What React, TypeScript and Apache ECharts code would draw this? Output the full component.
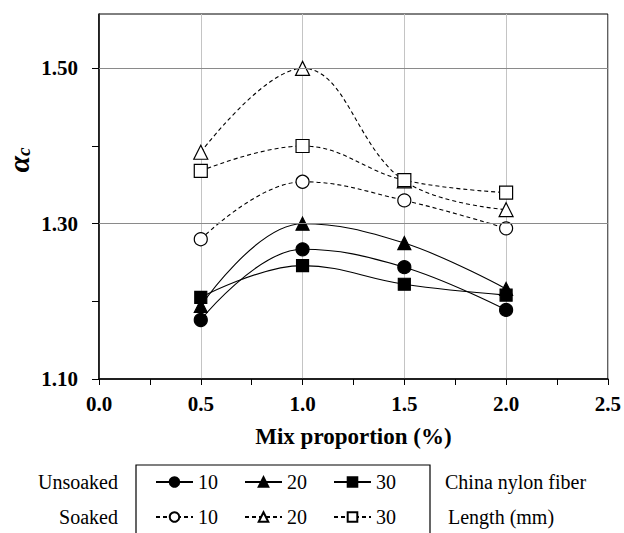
import React, { useEffect, useRef } from "react";
import * as echarts from "echarts";

const mixProportion = [0.5, 1.0, 1.5, 2.0];
const unsoaked10 = [1.176, 1.267, 1.244, 1.189];
const unsoaked20 = [1.194, 1.3, 1.275, 1.216];
const unsoaked30 = [1.205, 1.246, 1.222, 1.208];
const soaked10 = [1.28, 1.354, 1.33, 1.294];
const soaked20 = [1.392, 1.5, 1.355, 1.318];
const soaked30 = [1.368, 1.4, 1.356, 1.34];
const yGridValues = [1.3, 1.5];
const yLabelValues = [1.1, 1.3, 1.5];

const FONT = "Liberation Serif";

function pairs(vals: number[]) {
  return mixProportion.map((x, i) => [x, vals[i]]);
}

export default function App() {
  const ref = useRef<HTMLDivElement>(null);
  useEffect(() => {
    document.body.style.margin = "0";
    const chart = echarts.init(ref.current!, null, { renderer: "svg" });
    const mk = (
      name: string,
      vals: number[],
      symbol: string,
      filled: boolean,
      dashed: boolean,
      size: number
    ) => ({
      name,
      type: "line",
      data: pairs(vals),
      smooth: 0.4,
      symbol,
      symbolSize: size,
      showSymbol: true,
      lineStyle: { color: "#000", width: 1.1, type: dashed ? [4, 3] : "solid" },
      itemStyle: {
        color: filled ? "#000" : "#fff",
        borderColor: "#000",
        borderWidth: 1.2,
      },
      emphasis: { disabled: true },
      z: 3,
    });
    const series: any[] = [
      mk("Unsoaked 10", unsoaked10, "circle", true, false, 13),
      mk("Unsoaked 20", unsoaked20, "triangle", true, false, 13),
      mk("Unsoaked 30", unsoaked30, "rect", true, false, 12),
      mk("Soaked 10", soaked10, "circle", false, true, 13),
      mk("Soaked 20", soaked20, "triangle", false, true, 14),
      mk("Soaked 30", soaked30, "rect", false, true, 13),
    ];
    series.push({
      name: "grid",
      type: "line",
      data: [],
      silent: true,
      markLine: {
        silent: true,
        symbol: "none",
        label: { show: false },
        lineStyle: { color: "#8a8a8a", width: 1, type: "solid" },
        data: yGridValues.map((v) => ({ yAxis: v })),
      },
      z: 1,
    });
    const legendCommon = {
      orient: "horizontal",
      left: 155,
      padding: 0,
      itemWidth: 37,
      itemHeight: 12,
      itemGap: 26,
      selectedMode: false,
      textStyle: { fontFamily: FONT, fontSize: 20, color: "#000", width: 31 },
      formatter: (n: string) => n.split(" ")[1],
    };
    chart.setOption({
      animation: false,
      backgroundColor: "#fff",
      textStyle: { fontFamily: FONT },
      grid: {
        left: 99,
        right: 15,
        top: 14,
        bottom: 154,
        show: true,
        borderColor: "#000",
        borderWidth: 1,
        backgroundColor: "transparent",
      },
      legend: [
        { ...legendCommon, top: 472, data: ["Unsoaked 10", "Unsoaked 20", "Unsoaked 30"] },
        { ...legendCommon, top: 507, data: ["Soaked 10", "Soaked 20", "Soaked 30"] },
      ],
      xAxis: {
        type: "value",
        min: 0,
        max: 2.5,
        interval: 0.5,
        name: "Mix proportion (%)",
        nameLocation: "middle",
        nameGap: 46,
        nameTextStyle: { fontFamily: FONT, fontSize: 23, fontWeight: "bold", color: "#000" },
        axisLine: { lineStyle: { color: "#000", width: 1.5 } },
        axisTick: { show: true, inside: false, length: 6, lineStyle: { color: "#000" } },
        minorTick: { show: true, splitNumber: 2, length: 6, lineStyle: { color: "#000" } },
        axisLabel: {
          fontFamily: FONT,
          fontSize: 21,
          fontWeight: "bold",
          color: "#000",
          margin: 14,
          formatter: (v: number) => v.toFixed(1),
        },
        splitLine: { show: true, lineStyle: { color: "#c4c4c4", width: 1 } },
      },
      yAxis: {
        type: "value",
        min: 1.1,
        max: 1.57,
        interval: 0.1,
        axisLine: { show: true, lineStyle: { color: "#000", width: 1.5 } },
        axisTick: { show: true, inside: false, length: 7, lineStyle: { color: "#000" } },
        axisLabel: {
          fontFamily: FONT,
          fontSize: 21,
          fontWeight: "bold",
          color: "#000",
          margin: 21,
          showMaxLabel: false,
          formatter: (v: number) => {
            const r = Math.round(v * 100) / 100;
            return yLabelValues.some((t) => Math.abs(t - r) < 1e-6) ? r.toFixed(2) : "";
          },
        },
        splitLine: { show: false },
      },
      series,
      graphic: [
        {
          type: "text",
          x: 18,
          y: 160,
          rotation: Math.PI / 2,
          style: {
            text: "{a|α}{c|c}",
            align: "center",
            verticalAlign: "middle",
            rich: {
              a: { fontFamily: FONT, fontSize: 30, fontStyle: "italic", fontWeight: "bold", fill: "#000" },
              c: { fontFamily: FONT, fontSize: 19, fontStyle: "italic", fontWeight: "bold", fill: "#000", padding: [10, 0, 0, 0] },
            },
          },
        },
        {
          type: "rect",
          shape: { x: 136, y: 465, width: 294, height: 120 },
          style: { fill: "none", stroke: "#000", lineWidth: 1.2 },
          silent: true,
        },
        {
          type: "text",
          x: 118,
          y: 482,
          style: { text: "Unsoaked", fontFamily: FONT, fontSize: 20, fill: "#000", align: "right", verticalAlign: "middle" },
        },
        {
          type: "text",
          x: 118,
          y: 517,
          style: { text: "Soaked", fontFamily: FONT, fontSize: 20, fill: "#000", align: "right", verticalAlign: "middle" },
        },
        {
          type: "text",
          x: 445,
          y: 482,
          style: { text: "China nylon fiber", fontFamily: FONT, fontSize: 20, fill: "#000", align: "left", verticalAlign: "middle" },
        },
        {
          type: "text",
          x: 448,
          y: 517,
          style: { text: "Length (mm)", fontFamily: FONT, fontSize: 20, fill: "#000", align: "left", verticalAlign: "middle" },
        },
      ],
    });
    return () => chart.dispose();
  }, []);
  return <div ref={ref} style={{ width: 624, height: 533 }} />;
}
